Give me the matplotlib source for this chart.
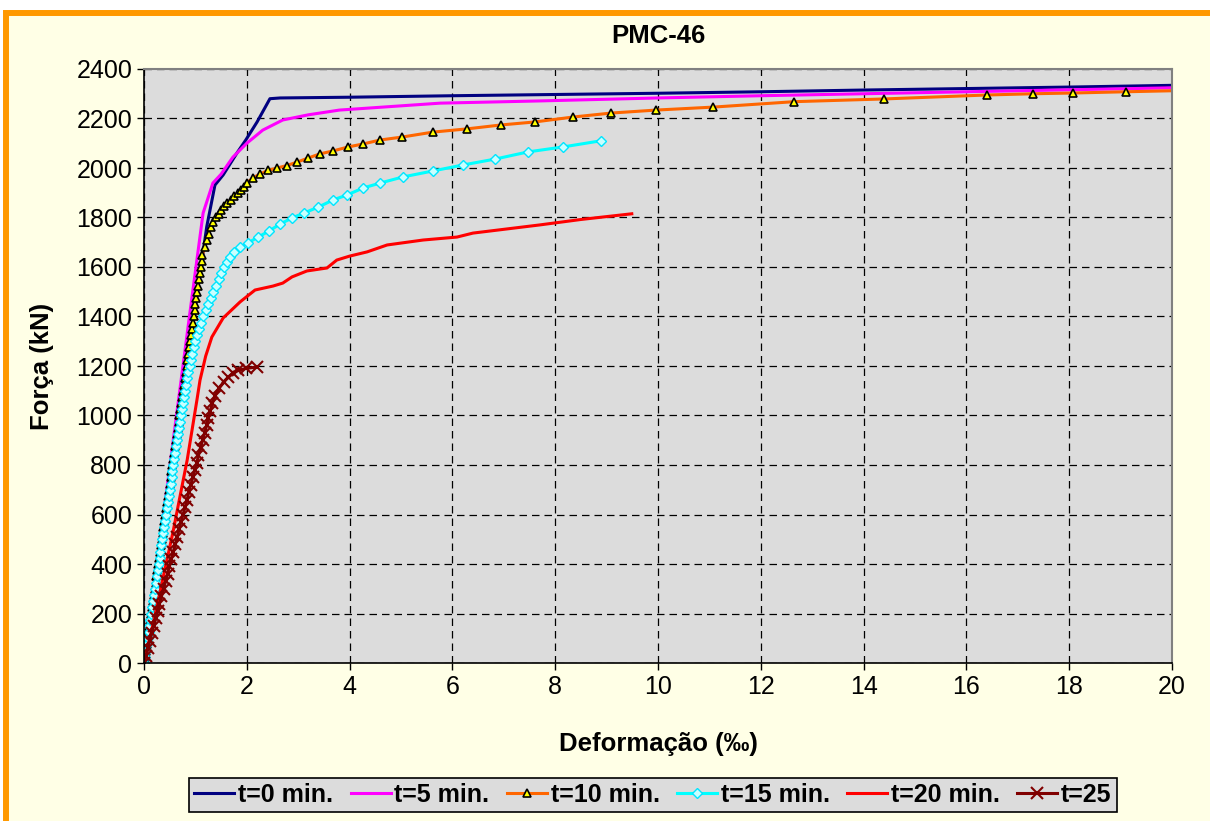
# Curvas força x deformação - PMC-46

import matplotlib.pyplot as plt
from matplotlib.patches import Rectangle

plt.rcParams['font.family'] = 'Liberation Sans'

# t=0 min.
def0 = [0, 0.60, 1.22, 1.38, 1.54, 1.81, 1.98, 2.20, 2.45, 2.65, 4, 6, 8, 10, 12, 14, 16, 18, 20]
forca0 = [0, 860, 1762, 1931, 1972, 2061, 2113, 2186, 2280, 2283, 2286, 2292, 2297, 2302, 2308, 2315, 2321, 2327, 2334]

# t=5 min.
def5 = [0, 0.50, 0.90, 1.15, 1.34, 1.50, 1.73, 2.00, 2.31, 2.70, 3.20, 3.80, 5.76, 7.70, 10, 12, 14, 16, 18, 20]
forca5 = [0, 790, 1426, 1818, 1939, 1975, 2044, 2100, 2153, 2194, 2215, 2234, 2262, 2271, 2283, 2292, 2300, 2308, 2316, 2324]

# t=10 min.
def10 = [0, 0.017, 0.034, 0.052, 0.069, 0.086, 0.103, 0.121, 0.138, 0.155, 0.172, 0.190, 0.207,
         0.224, 0.241, 0.259, 0.276, 0.293, 0.310, 0.328, 0.345, 0.362, 0.379, 0.397, 0.414,
         0.431, 0.448, 0.466, 0.483, 0.500, 0.517, 0.534, 0.552, 0.569, 0.586, 0.603, 0.621,
         0.638, 0.655, 0.672, 0.690, 0.707, 0.724, 0.741, 0.759, 0.776, 0.793, 0.810, 0.828,
         0.845, 0.862, 0.879, 0.897, 0.914, 0.931, 0.948, 0.966, 0.983, 1.000, 1.017, 1.034,
         1.052, 1.069, 1.086, 1.103, 1.121, 1.138, 1.18, 1.22, 1.26, 1.30, 1.35, 1.40, 1.45,
         1.50, 1.56, 1.62, 1.69, 1.76, 1.82, 1.88, 1.94, 2.00, 2.12, 2.26, 2.41, 2.59, 2.78,
         2.98, 3.19, 3.42, 3.68, 3.97, 4.26, 4.59, 5.02, 5.62, 6.28, 6.95, 7.60, 8.35, 9.09,
         9.96, 11.07, 12.65, 14.40, 16.40, 17.30, 18.07, 19.10, 20.2]
forca10 = [0, 25, 50, 75, 100, 125, 150, 175, 200, 225, 250, 275, 300,
           325, 350, 375, 400, 425, 450, 475, 500, 525, 550, 575, 600,
           625, 650, 675, 700, 725, 750, 775, 800, 825, 850, 875, 900,
           925, 950, 975, 1000, 1025, 1050, 1075, 1100, 1125, 1150, 1175, 1200,
           1225, 1250, 1275, 1300, 1325, 1350, 1375, 1400, 1425, 1450, 1475, 1500,
           1525, 1550, 1575, 1600, 1625, 1650, 1680, 1710, 1735, 1760, 1780, 1800, 1815,
           1830, 1845, 1858, 1871, 1885, 1898, 1911, 1925, 1940, 1960, 1976, 1990, 2000, 2010,
           2024, 2040, 2057, 2069, 2085, 2097, 2113, 2125, 2145, 2158, 2174, 2186, 2206, 2222,
           2234, 2246, 2268, 2279, 2295, 2300, 2303, 2308, 2313]

# t=15 min.
def15 = [0, 0.018, 0.036, 0.054, 0.071, 0.089, 0.107, 0.125, 0.143, 0.161, 0.179, 0.196, 0.214,
         0.232, 0.250, 0.268, 0.286, 0.304, 0.321, 0.339, 0.357, 0.375, 0.393, 0.411, 0.429,
         0.446, 0.464, 0.482, 0.500, 0.518, 0.536, 0.554, 0.571, 0.589, 0.607, 0.625, 0.643,
         0.661, 0.679, 0.696, 0.714, 0.735, 0.755, 0.775, 0.795, 0.815, 0.84, 0.865, 0.89,
         0.915, 0.94, 0.97, 1.00, 1.035, 1.07, 1.11, 1.15, 1.20, 1.25, 1.30, 1.35, 1.40, 1.45,
         1.50, 1.56, 1.62, 1.68, 1.76, 1.86, 2.02, 2.22, 2.43, 2.65, 2.88, 3.11, 3.39, 3.68,
         3.95, 4.26, 4.59, 5.04, 5.62, 6.20, 6.83, 7.47, 8.15, 8.89]
forca15 = [0, 25, 50, 75, 100, 125, 150, 175, 200, 225, 250, 275, 300,
           325, 350, 375, 400, 425, 450, 475, 500, 525, 550, 575, 600,
           625, 650, 675, 700, 725, 750, 775, 800, 825, 850, 875, 900,
           925, 950, 975, 1000, 1025, 1050, 1075, 1100, 1125, 1150, 1175, 1200,
           1225, 1250, 1275, 1300, 1325, 1350, 1375, 1400, 1425, 1450, 1475, 1500, 1525, 1550,
           1575, 1600, 1620, 1640, 1660, 1680, 1697, 1721, 1745, 1774, 1798, 1818, 1842, 1871,
           1891, 1919, 1939, 1964, 1988, 2012, 2036, 2065, 2085, 2110]

# t=20 min.
def20 = [0, 0.20, 0.56, 0.84, 1.03, 1.09, 1.20, 1.32, 1.54, 1.87, 2.16, 2.51, 2.70, 2.88, 3.17,
         3.56, 3.75, 4.00, 4.34, 4.73, 5.43, 6.09, 6.40, 7.70, 8.50, 9.49]
forca20 = [0, 180, 525, 820, 1063, 1143, 1240, 1317, 1394, 1459, 1507, 1523, 1535, 1560, 1584,
           1596, 1628, 1644, 1661, 1689, 1709, 1721, 1737, 1770, 1792, 1815]

# t=25
def25 = [0, 0.04, 0.08, 0.11, 0.15, 0.19, 0.23, 0.27, 0.30, 0.34, 0.38, 0.42, 0.46, 0.49,
         0.53, 0.57, 0.61, 0.65, 0.68, 0.72, 0.76, 0.80, 0.84, 0.87, 0.91, 0.95, 0.99, 1.03,
         1.06, 1.10, 1.14, 1.18, 1.22, 1.25, 1.29, 1.33, 1.38, 1.46, 1.55, 1.64, 1.73, 1.83,
         1.98, 2.20]
forca25 = [0, 30, 60, 90, 120, 150, 180, 210, 240, 270, 300, 330, 360, 390,
           420, 450, 480, 510, 540, 570, 600, 630, 660, 690, 720, 750, 780, 810,
           840, 870, 900, 930, 960, 990, 1020, 1050, 1080, 1110, 1135, 1155, 1170, 1182,
           1190, 1196]

fig = plt.figure(figsize=(12.1, 8.21), dpi=100, facecolor='white')
fig.patches.append(Rectangle((5.5 / 1210, -0.1), 1.2, 1 - 12.5 / 821 + 0.1,
                             transform=fig.transFigure, facecolor='#FFFFE6',
                             edgecolor='#FF9900', linewidth=4.3, zorder=-10))

ax = fig.add_axes([144 / 1210, 1 - 663 / 821, (1172 - 144) / 1210, (663 - 69) / 821])
ax.set_facecolor('#DCDCDC')

ax.plot(def0, forca0, color='#000080', lw=2.2, label='t=0 min.')
ax.plot(def5, forca5, color='#FF00FF', lw=2.2, label='t=5 min.')
ax.plot(def10, forca10, color='#FF6600', lw=2.2, marker='^', ms=6, mfc='#FFFF00',
        mec='black', mew=1.2, label='t=10 min.')
ax.plot(def15, forca15, color='#00FFFF', lw=2.2, marker='D', ms=5, mfc='#C8FFFF',
        mec='#00E5FF', mew=1.0, label='t=15 min.')
ax.plot(def20, forca20, color='#FF0000', lw=2.2, label='t=20 min.')
ax.plot(def25, forca25, color='#800000', lw=2.2, marker='x', ms=8, mew=1.5, label='t=25')

ax.set_xlim(0, 20)
ax.set_ylim(0, 2400)
ax.set_xticks(range(0, 21, 2))
ax.set_yticks(range(0, 2401, 200))
ax.grid(True, color='black', linestyle=(0, (6, 4)), linewidth=0.9)
ax.set_axisbelow(True)
ax.tick_params(labelsize=18, length=5, width=1, direction='out')
for lado in ['top', 'right']:
    ax.spines[lado].set_color('#808080')
    ax.spines[lado].set_linewidth(1.5)
for lado in ['left', 'bottom']:
    ax.spines[lado].set_color('black')
    ax.spines[lado].set_linewidth(1.2)

ax.set_title('PMC-46', fontsize=18.5, fontweight='bold', pad=19)
ax.set_xlabel('Deformação (‰)', fontsize=18.5, fontweight='bold', labelpad=24)
ax.set_ylabel('Força (kN)', fontsize=18.5, fontweight='bold', labelpad=16)

leg = fig.legend(loc='center', bbox_to_anchor=(653 / 1210, 1 - 795 / 821), ncol=6,
                 prop={'size': 18, 'weight': 'bold'}, frameon=True, fancybox=False,
                 handlelength=1.6, handletextpad=0.15, columnspacing=0.7,
                 borderpad=0.2, borderaxespad=0)
leg.get_frame().set_facecolor('#DCDCDC')
leg.get_frame().set_edgecolor('black')
leg.get_frame().set_alpha(1)
leg.get_frame().set_linewidth(1.2)

fig.savefig('out.png', dpi=100)
